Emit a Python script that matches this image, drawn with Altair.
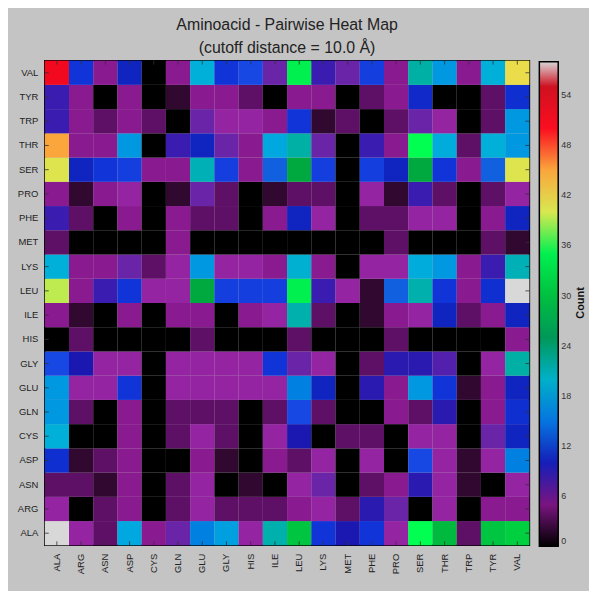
import altair as alt
import pandas as pd

amino = ["ALA", "ARG", "ASN", "ASP", "CYS", "GLN", "GLU", "GLY", "HIS", "ILE",
         "LEU", "LYS", "MET", "PHE", "PRO", "SER", "THR", "TRP", "TYR", "VAL"]

# one list per row (row residue), values in column order of `amino`
VAL = [51, 12, 6, 10.5, 0, 6, 19, 12, 13, 7.5, 35, 8.5, 7.5, 12.5, 6, 22, 17, 6, 19, 41.5]
TYR = [8.5, 6, 0, 6, 0, 2, 6, 6, 4, 0, 6, 6, 0, 4, 6, 11, 0, 0, 4, 11.5]
TRP = [8.5, 6, 4, 6, 4, 0, 7.5, 6.5, 6.5, 6, 12, 2, 4, 0, 4, 7.5, 6.5, 0, 4, 17]
THR = [45, 6, 6, 17, 0, 8.5, 10.5, 7.5, 6, 18, 22, 7.5, 0, 8.5, 6, 36, 18.5, 4, 19, 17]
SER = [40.5, 10.5, 12, 12.5, 6, 6, 21, 12.5, 6, 14, 28, 12.5, 0, 12.5, 10.5, 28, 12, 6, 14, 40.5]
PRO = [6, 2, 6, 6.5, 0, 2, 7.5, 4, 0, 2, 4, 4, 0, 6.5, 2, 8.5, 4, 0, 4, 6.5]
PHE = [8.5, 4, 0, 6, 0, 6, 4, 4, 0, 6, 10.5, 6.5, 0, 4, 4, 6.5, 6.5, 0, 6, 10.5]
MET = [4, 0, 0, 0, 0, 6, 0, 0, 0, 0, 0, 0, 0, 0, 4, 0, 0, 0, 4, 2]
LYS = [19, 6, 6, 7.5, 4, 6.5, 17, 6.5, 6.5, 6, 19.5, 6, 0, 6.5, 6.5, 18.5, 17, 6, 8.5, 21]
LEU = [39.5, 6, 8.5, 12, 6.5, 6.5, 28, 12.5, 12.5, 12.5, 35, 8.5, 6.5, 2, 14, 21.5, 12, 6, 11.5, 58]
ILE = [6, 2, 0, 6, 0, 6, 6, 0, 6, 6.5, 21.5, 4, 0, 2, 6, 6.5, 10.5, 4, 6, 10.5]
HIS = [0, 4, 0, 0, 0, 0, 4, 0, 0, 0, 4, 0, 0, 0, 4, 0, 0, 0, 0, 6]
GLY = [13, 9.5, 6.5, 6.5, 0, 6.5, 6.5, 6.5, 6.5, 12, 7.5, 6.5, 0, 4, 9, 9, 8, 0, 6.5, 22]
GLU = [17, 6.5, 6.5, 12, 0, 6.5, 6.5, 6.5, 6.5, 6.5, 15.5, 10.5, 0, 9, 6, 17, 12, 2, 6, 10.5]
GLN = [17, 4, 0, 6, 0, 4, 4, 4, 0, 4, 13, 4, 0, 0, 6, 4, 9, 0, 6, 11.5]
CYS = [19, 0, 0, 6, 0, 4, 6.5, 4, 0, 6.5, 9.5, 0, 4, 4, 0, 6.5, 6.5, 0, 7.5, 10.5]
ASP = [11.5, 2, 4, 6, 0, 0, 6, 2, 0, 6, 4, 6.5, 0, 6.5, 0, 13, 6.5, 2, 6.5, 15.5]
ASN = [4, 4, 2, 6, 0, 4, 6.5, 0, 2, 0, 6.5, 7.5, 0, 4, 6, 9, 6.5, 2, 0, 6.5]
ARG = [6.5, 0, 4, 6, 0, 4, 6.5, 4, 4, 4, 6, 6.5, 4, 9, 7.5, 0, 6.5, 0, 6, 6]
ALA = [58, 6.5, 4, 18, 6, 7.5, 15.5, 17.5, 6.5, 21.5, 30.5, 12, 9.5, 12, 6.5, 36, 29.5, 4, 30.5, 31.5]

row_values = {"ALA": ALA, "ARG": ARG, "ASN": ASN, "ASP": ASP, "CYS": CYS, "GLN": GLN,
              "GLU": GLU, "GLY": GLY, "HIS": HIS, "ILE": ILE, "LEU": LEU, "LYS": LYS,
              "MET": MET, "PHE": PHE, "PRO": PRO, "SER": SER, "THR": THR, "TRP": TRP,
              "TYR": TYR, "VAL": VAL}

# colour map stops
stop_values = [0, 1, 2, 3, 4, 5, 6, 6.5, 7.5, 8.5, 9.5, 10.5, 12, 13, 14, 15.5, 17, 18,
               19, 20.5, 22, 24, 26, 28, 30, 31.5, 33, 35, 36, 38.4, 40, 42, 44.5, 46.8,
               48, 49.5, 53, 55, 56.5, 58]
stop_colors = ["#000000", "#150418", "#300830", "#481050", "#5e1066", "#7a1480", "#8a1a90",
               "#9424a2", "#6a24a8", "#3a1cb0", "#1a18b0", "#1024c0", "#1034d8", "#1848e4",
               "#1060e0", "#0080e0", "#0098e0", "#00a8e0", "#00b0d8", "#00b0c0", "#00b0a4",
               "#00a080", "#009030", "#00a840", "#00c040", "#00d040", "#00e048", "#00f050",
               "#00ff50", "#80f050", "#d8e850", "#f0d848", "#f8b040", "#ff8030", "#ff3020",
               "#ff1020", "#e00020", "#d01020", "#d06060", "#d8d8d8"]
bar_ticks = [0, 6, 12, 18, 24, 30, 36, 42, 48, 54]
bar_title = ["Count"]

records = []
for r in amino:
    for c, v in zip(amino, row_values[r]):
        records.append({"row": r, "col": c, "count": v})
df = pd.DataFrame(records)
ticks_df = pd.DataFrame({"row": amino, "col": amino})

W = 488
H = 488
font = "Liberation Sans"

xscale = alt.Scale(domain=amino, paddingInner=0, paddingOuter=0)
yscale = alt.Scale(domain=amino[::-1], paddingInner=0, paddingOuter=0)

heat = alt.Chart(df).mark_rect(strokeWidth=0).encode(
    x=alt.X("col:N", scale=xscale, sort=amino, title=None,
            axis=alt.Axis(labelAngle=-90, labelFontSize=9.5, labelFont=font, labelColor="#222",
                          domain=False, ticks=False, labelPadding=8)),
    y=alt.Y("row:N", scale=yscale, sort=amino[::-1], title=None,
            axis=alt.Axis(labelFontSize=9.5, labelFont=font, labelColor="#222",
                          domain=False, ticks=False, labelPadding=7)),
    color=alt.Color("count:Q",
                    scale=alt.Scale(domain=stop_values, range=stop_colors, interpolate="rgb"),
                    legend=alt.Legend(orient="none", legendX=498, legendY=1, direction="vertical",
                                      gradientLength=488, gradientThickness=19,
                                      gradientStrokeColor="black", gradientStrokeWidth=1.5,
                                      values=bar_ticks, labelOverlap=False,
                                      labelFontSize=9, labelFont=font, labelColor="#333",
                                      labelOffset=3, title=None)),
)

count_title = alt.Chart(pd.DataFrame({"t": bar_title})).mark_text(
    angle=270, fontSize=11, font=font, fontWeight="bold", color="#111",
    align="center", baseline="middle"
).encode(text="t:N", x=alt.value(540), y=alt.value(H / 2))

tick_color = "#333333"
left_ticks = alt.Chart(ticks_df).mark_rule(color=tick_color, strokeWidth=1, opacity=0.8).encode(
    y=alt.Y("row:N", scale=yscale, sort=amino[::-1]), x=alt.value(0), x2=alt.value(4))
right_ticks = alt.Chart(ticks_df).mark_rule(color=tick_color, strokeWidth=1, opacity=0.8).encode(
    y=alt.Y("row:N", scale=yscale, sort=amino[::-1]), x=alt.value(W - 4), x2=alt.value(W))
top_ticks = alt.Chart(ticks_df).mark_rule(color=tick_color, strokeWidth=1, opacity=0.8).encode(
    x=alt.X("col:N", scale=xscale, sort=amino), y=alt.value(0), y2=alt.value(4))
bottom_ticks = alt.Chart(ticks_df).mark_rule(color=tick_color, strokeWidth=1, opacity=0.8).encode(
    x=alt.X("col:N", scale=xscale, sort=amino), y=alt.value(H - 4), y2=alt.value(H))

chart = alt.layer(heat, left_ticks, right_ticks, top_ticks, bottom_ticks, count_title).properties(
    width=W, height=H,
    title=alt.Title(["Aminoacid - Pairwise Heat Map", "(cutoff distance = 10.0 Å)"],
                    fontSize=16, font=font, fontWeight="normal", color="#222",
                    lineHeight=23, anchor="middle", offset=4),
    background="#c4c4c4",
    autosize=alt.AutoSizeParams(type="none"),
    padding={"left": 37, "top": 51, "right": 60, "bottom": 44},
).configure_view(stroke="black", strokeWidth=1.5)

chart.save("out.html", embed_options={"renderer": "svg", "actions": False})
